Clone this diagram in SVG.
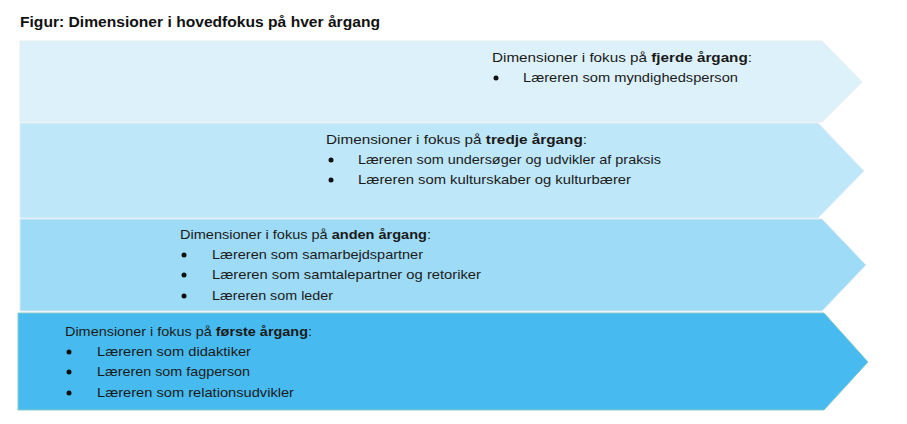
<svg xmlns="http://www.w3.org/2000/svg" width="907" height="424" viewBox="0 0 907 424">
<style>
text{font-family:"Liberation Sans",Arial,sans-serif;font-size:13.5px;fill:#1a1a1a}
.title{font-size:15.5px;font-weight:bold;fill:#111}
.b{font-weight:bold}
.band{stroke-width:1}
.dot{fill:#111}
</style>
<rect width="907" height="424" fill="#ffffff"/>
<text class="title" x="20" y="27" textLength="360" lengthAdjust="spacingAndGlyphs">Figur: Dimensioner i hovedfokus på hver årgang</text>
<g id="fjerde">
<polygon class="band" points="20,41 822,41 862,82 822,122 20,122" fill="#DDF1FB" stroke="#e6ecef"/>
<text x="492" y="62" textLength="260" lengthAdjust="spacingAndGlyphs">Dimensioner i fokus på <tspan class="b">fjerde årgang</tspan>:</text>
<circle class="dot" cx="496" cy="78" r="2.5"/>
<text x="523" y="82" textLength="215" lengthAdjust="spacingAndGlyphs">Læreren som myndighedsperson</text>
</g>
<g id="tredje">
<polygon class="band" points="20,123 818,123 864,171 818,218 20,218" fill="#BEE7F9" stroke="#e3eef3"/>
<text x="326" y="144" textLength="261" lengthAdjust="spacingAndGlyphs">Dimensioner i fokus på <tspan class="b">tredje årgang</tspan>:</text>
<circle class="dot" cx="331" cy="160" r="2.5"/>
<text x="358" y="164" textLength="303" lengthAdjust="spacingAndGlyphs">Læreren som undersøger og udvikler af praksis</text>
<circle class="dot" cx="331" cy="180" r="2.5"/>
<text x="358" y="184" textLength="273" lengthAdjust="spacingAndGlyphs">Læreren som kulturskaber og kulturbærer</text>
</g>
<g id="anden">
<polygon class="band" points="20,219 822,219 866,265 822,311 20,311" fill="#9EDBF6" stroke="#dcebf2"/>
<text x="180" y="239" textLength="251" lengthAdjust="spacingAndGlyphs">Dimensioner i fokus på <tspan class="b">anden årgang</tspan>:</text>
<circle class="dot" cx="184" cy="255" r="2.5"/>
<text x="212" y="259" textLength="211" lengthAdjust="spacingAndGlyphs">Læreren som samarbejdspartner</text>
<circle class="dot" cx="184" cy="275" r="2.5"/>
<text x="212" y="279" textLength="269" lengthAdjust="spacingAndGlyphs">Læreren som samtalepartner og retoriker</text>
<circle class="dot" cx="184" cy="296" r="2.5"/>
<text x="212" y="300" textLength="121" lengthAdjust="spacingAndGlyphs">Læreren som leder</text>
</g>
<g id="forste">
<polygon class="band" points="18,313 824,313 868,362 824,410 18,410" fill="#47BBEF" stroke="#86cbc6"/>
<text x="65" y="336" textLength="247" lengthAdjust="spacingAndGlyphs">Dimensioner i fokus på <tspan class="b">første årgang</tspan>:</text>
<circle class="dot" cx="69" cy="352" r="2.5"/>
<text x="97" y="356" textLength="154" lengthAdjust="spacingAndGlyphs">Læreren som didaktiker</text>
<circle class="dot" cx="69" cy="372" r="2.5"/>
<text x="97" y="376" textLength="153" lengthAdjust="spacingAndGlyphs">Læreren som fagperson</text>
<circle class="dot" cx="69" cy="393" r="2.5"/>
<text x="97" y="397" textLength="197" lengthAdjust="spacingAndGlyphs">Læreren som relationsudvikler</text>
</g>
<g id="connectors"/>
</svg>
